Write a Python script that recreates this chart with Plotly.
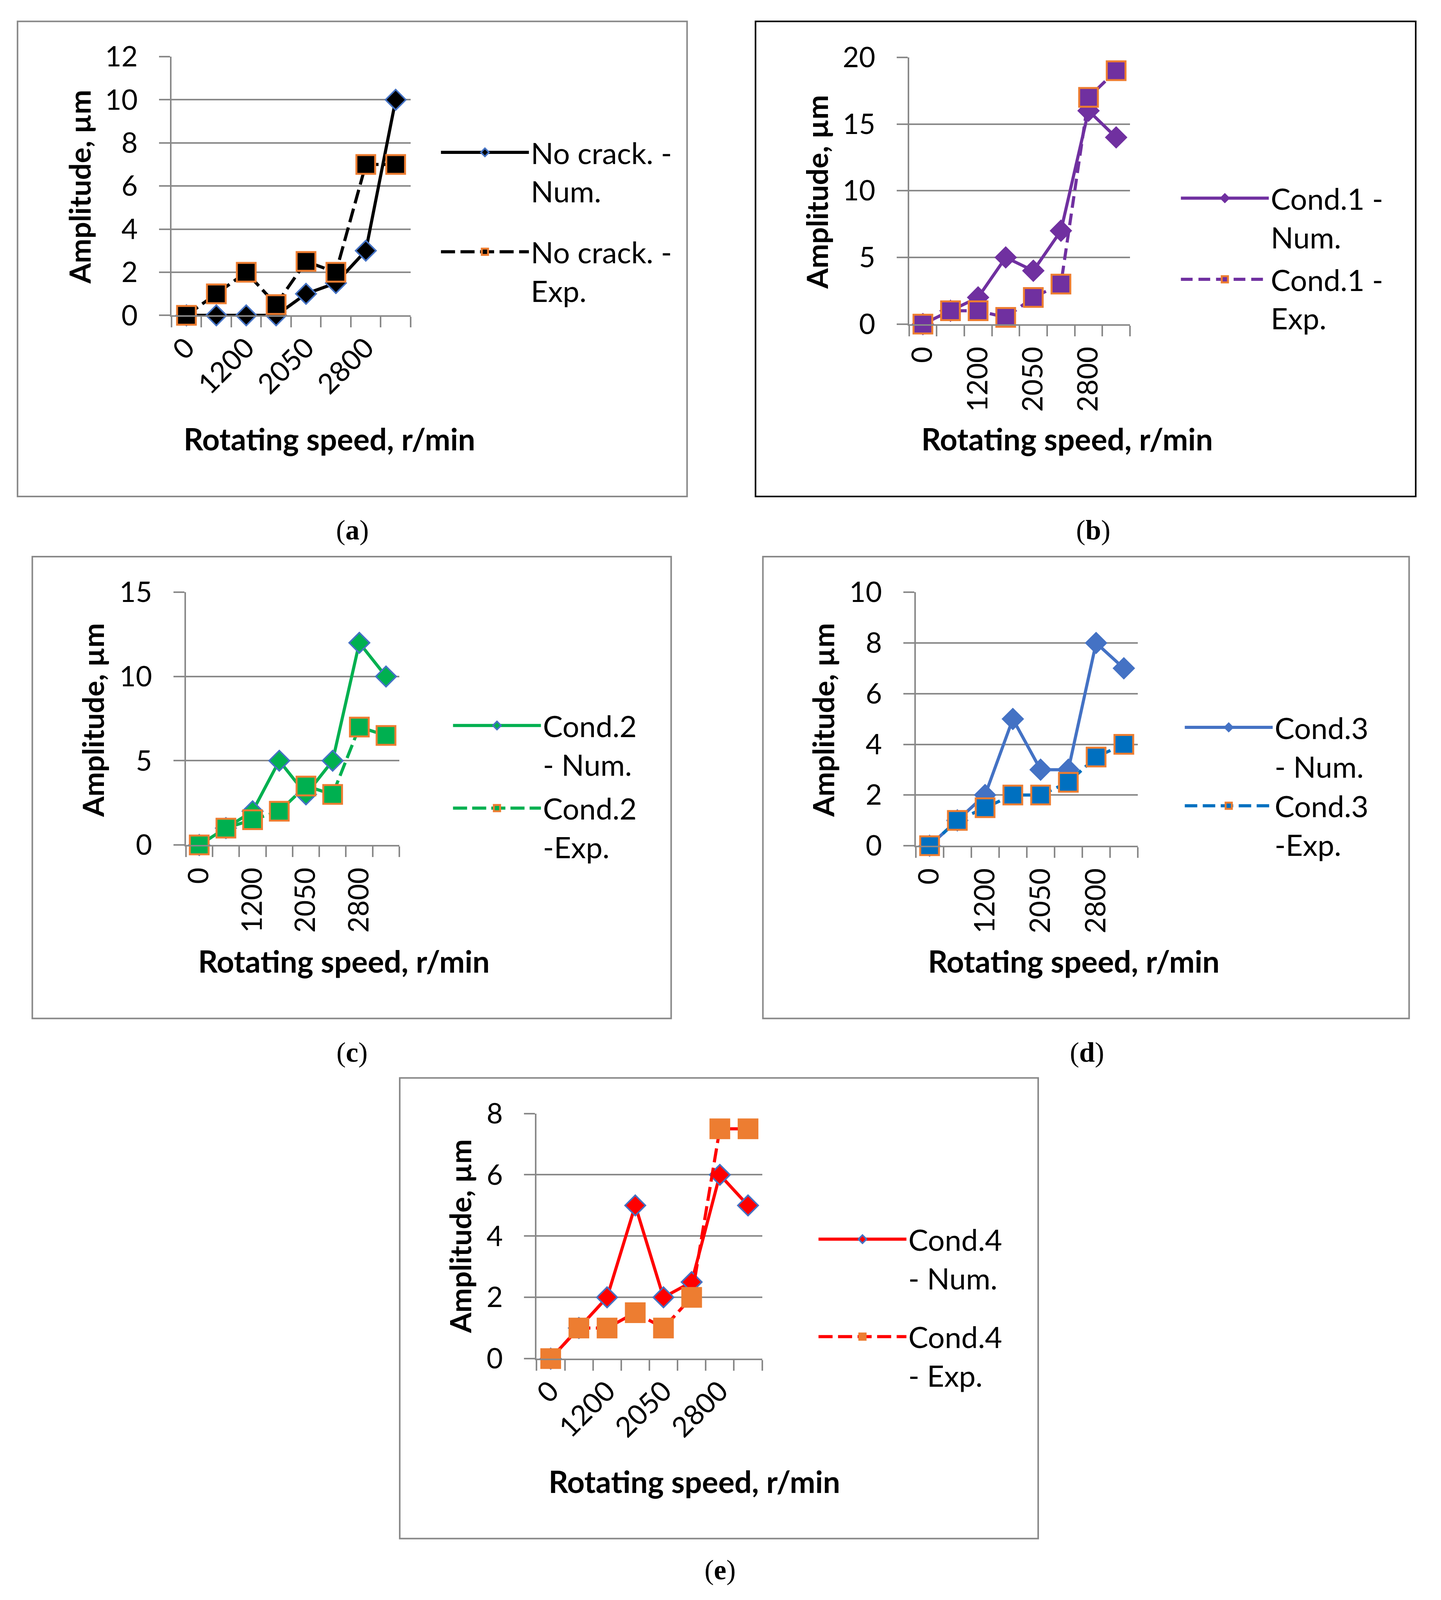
import plotly.graph_objects as go

W, H = 3688, 4206

# ---------------- data ----------------
speed_points = [0, 1, 2, 3, 4, 5, 6, 7]          # category slots on the x axis
tick_positions = [0, 2, 4, 6]
tick_labels = ["0", "1200", "2050", "2800"]

a_num = [0, 0, 0, 0, 1, 1.5, 3, 10]
a_exp = [0, 1, 2, 0.5, 2.5, 2, 7, 7]
b_num = [0, 1, 2, 5, 4, 7, 16, 14]
b_exp = [0, 1, 1, 0.5, 2, 3, 17, 19]
c_num = [0, 1, 2, 5, 3, 5, 12, 10]
c_exp = [0, 1, 1.5, 2, 3.5, 3, 7, 6.5]
d_num = [0, 1, 2, 5, 3, 3, 8, 7]
d_exp = [0, 1, 1.5, 2, 2, 2.5, 3.5, 4]
e_num = [0, 1, 2, 5, 2, 2.5, 6, 5]
e_exp = [0, 1, 1, 1.5, 1, 2, 7.5, 7.5]

y_max = [12, 20, 15, 10, 8]
y_step = [2, 5, 5, 2, 2]

names_num = ["No crack. -<br>Num.", "Cond.1 -<br>Num.", "Cond.2<br>- Num.", "Cond.3<br>- Num.", "Cond.4<br>- Num."]
names_exp = ["No crack. -<br>Exp.", "Cond.1 -<br>Exp.", "Cond.2<br>-Exp.", "Cond.3<br>-Exp.", "Cond.4<br>- Exp."]
captions = ["a", "b", "c", "d", "e"]
x_title = "Rotating speed, r/min"
y_title = "Amplitude, µm"

# ---------------- style / layout ----------------
GRID = "#898989"
ORANGE = "#ED7D31"
BLUE_EDGE = "#4472C4"
FONT = "Lato"

styles = [
    dict(num_line="#000000", num_fill="#000000", num_edge=BLUE_EDGE,
         exp_line="#000000", exp_fill="#000000", dash="36px,14px", angle=-45),
    dict(num_line="#7030A0", num_fill="#7030A0", num_edge="#7030A0",
         exp_line="#7030A0", exp_fill="#7030A0", dash="30px,15px", angle=-90),
    dict(num_line="#00B050", num_fill="#00B050", num_edge=BLUE_EDGE,
         exp_line="#00B050", exp_fill="#00B050", dash="36px,13px", angle=-90),
    dict(num_line="#4472C4", num_fill="#4472C4", num_edge="#4472C4",
         exp_line="#0070C0", exp_fill="#0070C0", dash="32px,14px", angle=-90),
    dict(num_line="#FF0000", num_fill="#FF0000", num_edge=BLUE_EDGE,
         exp_line="#FF0000", exp_fill=ORANGE, dash="36px,14px", angle=-45),
]

# pixel geometry (left, right, top, bottom) of each plot area, in reference pixels
plot_px = [(442, 1057, 143, 826), (2339, 2907, 145, 849), (479, 1028, 1557, 2224),
           (2356, 2927, 1557, 2226), (1381, 1961, 2933, 3580)]
box_px = [(46, 1768, 50, 1304), (1944, 3642, 50, 1304), (84, 1727, 1463, 2682),
          (1963, 3625, 1463, 2682), (1029, 2671, 2839, 4055)]
box_col = [GRID, "#000000", GRID, GRID, GRID]
ytitle_px = [(205, 487), (2101, 500), (239, 1894), (2117, 1894), (1184, 3257)]
xtitle_px = [(848, 1152), (2745, 1152), (885, 2530), (2762, 2530), (1787, 3904)]
legend_px = [(1130, 338), (3033, 459), (1161, 1851), (3043, 1856), (2101, 3207)]
legend_gap = [54, 7, 11, 0, 49]
xlabel_standoff = [8, 25, 25, 25, 8]
caption_px = [(907, 1393), (2813, 1393), (906, 2772), (2797, 2772), (1853, 4138)]

# the page is photographed with the figure shifted and its bottom trimmed; compensate
DX, DY = -19, -41
KY = 0.99

def px(x):
    return (x + DX) / W

def py(y):
    return 1 - (50 + (y - 50) * KY + DY) / H

series = [(a_num, a_exp), (b_num, b_exp), (c_num, c_exp), (d_num, d_exp), (e_num, e_exp)]

fig = go.Figure()
layout = dict(width=W, height=H, margin=dict(l=0, r=0, t=0, b=0),
              paper_bgcolor="white", plot_bgcolor="white",
              font=dict(family=FONT, size=72, color="#000000"),
              shapes=[], annotations=[])

minor_vals = [v - 0.5 for v in speed_points] + [speed_points[-1] + 0.5]

for i in range(5):
    s = styles[i]
    num, exp = series[i]
    ax = "" if i == 0 else str(i + 1)
    leg = "legend" if i == 0 else f"legend{i + 1}"
    fig.add_trace(go.Scatter(
        x=speed_points, y=num, name=names_num[i], mode="lines+markers",
        xaxis="x" + ax, yaxis="y" + ax, legend=leg, legendgroup=f"n{i}",
        line=dict(color=s["num_line"], width=8),
        marker=dict(symbol="diamond", size=40, color=s["num_fill"],
                    line=dict(color=s["num_edge"], width=4)),
        cliponaxis=False))
    fig.add_trace(go.Scatter(
        x=speed_points, y=exp, name=names_exp[i], mode="lines+markers",
        xaxis="x" + ax, yaxis="y" + ax, legend=leg, legendgroup=f"e{i}",
        line=dict(color=s["exp_line"], width=8, dash=s["dash"]),
        marker=dict(symbol="square", size=48, color=s["exp_fill"],
                    line=dict(color=ORANGE, width=5)),
        cliponaxis=False))

    l, r, t, b = plot_px[i]
    layout["xaxis" + ax] = dict(
        domain=[px(l), px(r)], anchor="y" + ax, range=[-0.5, 7.5],
        tickmode="array", tickvals=tick_positions, ticktext=tick_labels,
        tickangle=s["angle"], ticks="", ticklabelstandoff=xlabel_standoff[i],
        tickfont=dict(family=FONT, size=72, color="#000000"),
        showline=True, linecolor=GRID, linewidth=4, showgrid=False, zeroline=False,
        minor=dict(tickmode="array", tickvals=minor_vals, ticks="outside",
                   ticklen=27, tickwidth=4, tickcolor=GRID, showgrid=False),
        fixedrange=True)
    layout["yaxis" + ax] = dict(
        domain=[py(b), py(t)], anchor="x" + ax, range=[0, y_max[i]],
        tickmode="linear", tick0=0, dtick=y_step[i],
        ticks="outside", ticklen=28, tickwidth=4, tickcolor=GRID,
        ticklabelstandoff=40,
        tickfont=dict(family=FONT, size=72, color="#000000"),
        showline=True, linecolor=GRID, linewidth=4,
        showgrid=True, gridcolor=GRID, gridwidth=4, zeroline=False,
        fixedrange=True)

    lx, ly = legend_px[i]
    layout[leg] = dict(
        x=px(lx), y=py(ly), xanchor="left", yanchor="top",
        bgcolor="rgba(0,0,0,0)", borderwidth=0, itemwidth=225,
        valign="top", tracegroupgap=legend_gap[i],
        font=dict(family=FONT, size=76, color="#000000"),
        itemclick=False, itemdoubleclick=False)

    bl, br, bt, bb = box_px[i]
    layout["shapes"].append(dict(
        type="rect", xref="paper", yref="paper",
        x0=px(bl), x1=px(br), y0=py(bb), y1=py(bt),
        line=dict(color=box_col[i], width=4), fillcolor="rgba(0,0,0,0)", layer="below"))

    tx, ty = ytitle_px[i]
    layout["annotations"].append(dict(
        text=y_title, xref="paper", yref="paper", x=px(tx), y=py(ty),
        xanchor="center", yanchor="middle", textangle=-90, showarrow=False,
        font=dict(family=FONT, size=75, color="#000000", weight="bold")))
    tx, ty = xtitle_px[i]
    layout["annotations"].append(dict(
        text=x_title, xref="paper", yref="paper", x=px(tx), y=py(ty),
        xanchor="center", yanchor="middle", showarrow=False,
        font=dict(family=FONT, size=78, color="#000000", weight="bold")))
    tx, ty = caption_px[i]
    layout["annotations"].append(dict(
        text=f"(<b>{captions[i]}</b>)", xref="paper", yref="paper", x=px(tx), y=py(ty),
        xanchor="center", yanchor="middle", showarrow=False,
        font=dict(family="Liberation Serif", size=72, color="#000000")))

fig.update_layout(**layout)
fig.write_html("out.html", config={"displayModeBar": False},
               post_script="document.body.style.margin='0';")
